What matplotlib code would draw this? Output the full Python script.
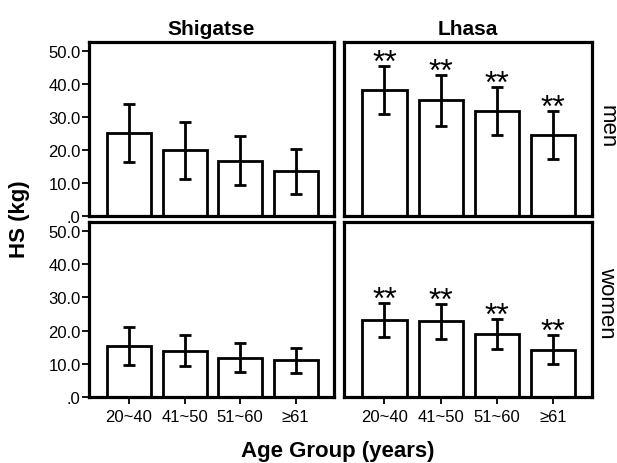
import matplotlib
matplotlib.use("Agg")
import matplotlib.pyplot as plt
import numpy as np

plt.rcParams['font.family'] = ['Liberation Sans', 'DejaVu Sans']

age_groups = ["20~40", "41~50", "51~60", "\u226561"]
sites = ["Shigatse", "Lhasa"]
sexes = ["men", "women"]
y_ticks = [0, 10, 20, 30, 40, 50]
y_tick_labels = [".0", "10.0", "20.0", "30.0", "40.0", "50.0"]

# mean and SD of HS (kg)
shigatse_men_mean = [25.0, 19.8, 16.7, 13.4]
shigatse_men_sd = [8.7, 8.6, 7.5, 6.8]
lhasa_men_mean = [38.1, 35.0, 31.7, 24.5]
lhasa_men_sd = [7.3, 7.7, 7.2, 7.3]
shigatse_women_mean = [15.3, 13.9, 11.8, 11.1]
shigatse_women_sd = [5.8, 4.7, 4.4, 3.8]
lhasa_women_mean = [23.2, 22.8, 19.0, 14.3]
lhasa_women_sd = [5.0, 5.3, 4.5, 4.3]
lhasa_men_sig = ["**", "**", "**", "**"]
lhasa_women_sig = ["**", "**", "**", "**"]

data = {
    ("men", "Shigatse"): (shigatse_men_mean, shigatse_men_sd, None),
    ("men", "Lhasa"): (lhasa_men_mean, lhasa_men_sd, lhasa_men_sig),
    ("women", "Shigatse"): (shigatse_women_mean, shigatse_women_sd, None),
    ("women", "Lhasa"): (lhasa_women_mean, lhasa_women_sd, lhasa_women_sig),
}

W, H = 617, 464
fig = plt.figure(figsize=(W / 100, H / 100), dpi=100)

col_x = [(89, 334), (344, 592)]
row_y = [(43, 216.7), (223.3, 398)]
side_label_y = [127, 303]

LW = 2.0
x = np.arange(len(age_groups))

for r, sex in enumerate(sexes):
    for c, site in enumerate(sites):
        x0, x1 = col_x[c]
        yt, yb = row_y[r]
        ax = fig.add_axes([x0 / W, 1 - yb / H, (x1 - x0) / W, (yb - yt) / H])
        mean, sd, sig = data[(sex, site)]
        ax.bar(x, mean, width=0.79, color="white", edgecolor="black",
               linewidth=LW, zorder=2)
        ax.errorbar(x, mean, yerr=sd, fmt="none", ecolor="black",
                    elinewidth=LW, capsize=4, capthick=LW, zorder=3)
        if sig is not None:
            for xi, m, s, t in zip(x, mean, sd, sig):
                ax.annotate(t, (xi, m + s), xytext=(0, -3.5),
                            textcoords="offset points", ha="center",
                            va="baseline", fontsize=23, zorder=4)
        ax.set_xlim(-0.72, 3.69)
        ax.set_ylim(0, 52.6)
        for sp in ax.spines.values():
            sp.set_linewidth(LW + 0.3)
            sp.set_color("black")
        ax.tick_params(direction="out", length=5, width=1.3, colors="black",
                       labelsize=12)
        if c == 0:
            ax.set_yticks(y_ticks)
            ax.set_yticklabels(y_tick_labels)
            ax.tick_params(axis="y", pad=1)
        else:
            ax.set_yticks([])
        if r == 1:
            ax.set_xticks(x)
            ax.set_xticklabels(age_groups)
            ax.tick_params(axis="x", pad=4)
        else:
            ax.set_xticks([])
        if r == 0:
            ax.set_title(site, fontsize=15, fontweight="bold", pad=6)
        if c == 1:
            fig.text(607 / W, 1 - side_label_y[r] / H, sex, rotation=-90,
                     ha="center", va="center", fontsize=16)

fig.text(20 / W, 1 - 219 / H, "HS (kg)", rotation=90, ha="center",
         va="center", fontsize=16, fontweight="bold")
fig.text(338 / W, 1 - 452 / H, "Age Group (years)", ha="center",
         va="center", fontsize=16, fontweight="bold")

fig.savefig("out.png", dpi=100)
